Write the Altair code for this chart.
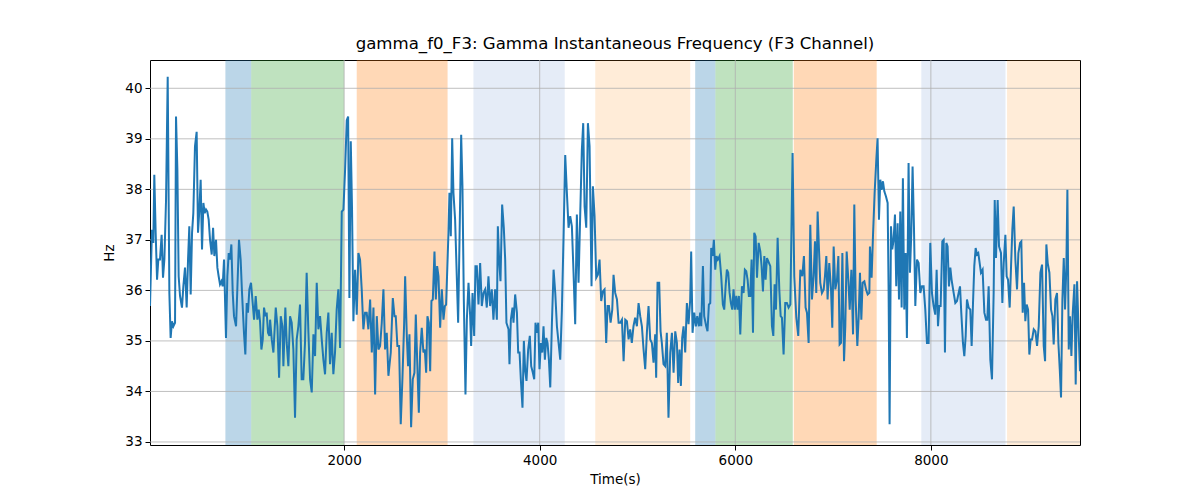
import altair as alt
import pandas as pd

# ---- data ----
times = [
 15, 35, 49, 59, 73, 87, 100, 117, 134, 148, 162, 179, 196, 213, 226, 240, 254, 271, 281, 295,
 308, 322, 342, 356, 373, 390, 404, 417, 431, 445, 458, 475, 492, 506, 520, 533, 547, 561, 574, 588,
 601, 615, 629, 646, 660, 673, 690, 704, 717, 731, 745, 758, 772, 792, 806, 820, 833, 847, 861, 874,
 895, 908, 925, 942, 956, 976, 990, 1004, 1017, 1031, 1048, 1065, 1079, 1096, 1113, 1127, 1140, 1154, 1168, 1181,
 1195, 1208, 1222, 1236, 1243, 1260, 1277, 1301, 1318, 1335, 1352, 1369, 1379, 1399, 1413, 1430, 1447, 1464, 1481, 1498,
 1515, 1532, 1549, 1566, 1583, 1600, 1617, 1635, 1652, 1669, 1686, 1703, 1720, 1737, 1754, 1771, 1788, 1805, 1822, 1839,
 1856, 1873, 1890, 1907, 1924, 1941, 1959, 1976, 1993, 2010, 2027, 2041, 2054, 2068, 2081, 2095, 2112, 2129, 2146, 2163,
 2180, 2197, 2214, 2231, 2248, 2266, 2283, 2300, 2317, 2334, 2351, 2368, 2385, 2402, 2419, 2436, 2453, 2477, 2498, 2515,
 2528, 2545, 2562, 2579, 2596, 2614, 2624, 2641, 2654, 2668, 2685, 2702, 2719, 2733, 2750, 2764, 2777, 2794, 2811, 2825,
 2839, 2852, 2866, 2880, 2893, 2907, 2924, 2938, 2951, 2965, 2982, 2999, 3016, 3030, 3043, 3067, 3077, 3091, 3105, 3118,
 3135, 3149, 3166, 3180, 3197, 3210, 3224, 3241, 3255, 3272, 3289, 3299, 3313, 3330, 3343, 3357, 3374, 3391, 3408, 3425,
 3442, 3459, 3476, 3493, 3510, 3527, 3544, 3562, 3572, 3585, 3599, 3616, 3633, 3647, 3660, 3681, 3691, 3705, 3722, 3732,
 3749, 3767, 3780, 3794, 3807, 3824, 3838, 3852, 3865, 3882, 3899, 3913, 3930, 3944, 3957, 3971, 3985, 3998, 4012, 4026,
 4039, 4053, 4067, 4080, 4094, 4108, 4125, 4142, 4159, 4176, 4193, 4210, 4227, 4244, 4261, 4278, 4295, 4312, 4329, 4346,
 4363, 4380, 4397, 4414, 4431, 4445, 4459, 4476, 4493, 4510, 4530, 4544, 4561, 4578, 4595, 4612, 4629, 4646, 4663, 4680,
 4694, 4708, 4725, 4742, 4755, 4772, 4790, 4807, 4824, 4841, 4858, 4875, 4892, 4909, 4925, 4942, 4959, 4976, 4994, 5011,
 5028, 5045, 5062, 5079, 5096, 5113, 5130, 5147, 5164, 5181, 5191, 5205, 5222, 5236, 5249, 5266, 5283, 5300, 5317, 5335,
 5352, 5369, 5386, 5403, 5416, 5430, 5444, 5457, 5471, 5488, 5505, 5522, 5539, 5549, 5563, 5580, 5597, 5611, 5628, 5641,
 5652, 5669, 5682, 5703, 5716, 5730, 5744, 5754, 5768, 5781, 5795, 5808, 5822, 5839, 5856, 5873, 5887, 5901, 5914, 5928,
 5942, 5955, 5969, 5982, 5996, 6010, 6023, 6037, 6051, 6068, 6085, 6098, 6112, 6126, 6139, 6153, 6167, 6181, 6194, 6208,
 6222, 6239, 6256, 6269, 6283, 6297, 6310, 6324, 6337, 6358, 6375, 6389, 6402, 6416, 6433, 6450, 6464, 6477, 6494, 6511,
 6528, 6545, 6563, 6573, 6586, 6603, 6624, 6644, 6665, 6685, 6702, 6719, 6733, 6750, 6767, 6784, 6801, 6815, 6828, 6842,
 6856, 6869, 6886, 6904, 6917, 6931, 6944, 6961, 6979, 6992, 7006, 7023, 7040, 7054, 7067, 7081, 7095, 7112, 7125, 7139,
 7156, 7170, 7187, 7204, 7217, 7231, 7248, 7262, 7275, 7289, 7302, 7320, 7337, 7354, 7371, 7377, 7394, 7408, 7425, 7442,
 7455, 7469, 7483, 7496, 7510, 7524, 7541, 7558, 7568, 7578, 7592, 7605, 7619, 7633, 7646, 7660, 7674, 7687, 7701, 7714,
 7728, 7742, 7755, 7772, 7786, 7800, 7813, 7827, 7841, 7858, 7875, 7892, 7909, 7926, 7943, 7960, 7977, 7994, 8011, 8028,
 8045, 8059, 8073, 8086, 8100, 8117, 8131, 8144, 8158, 8171, 8185, 8199, 8212, 8233, 8250, 8267, 8284, 8298, 8311, 8328,
 8342, 8356, 8369, 8386, 8403, 8417, 8431, 8444, 8458, 8472, 8485, 8499, 8512, 8529, 8547, 8564, 8577, 8591, 8608, 8625,
 8642, 8653, 8666, 8683, 8697, 8717, 8731, 8745, 8762, 8775, 8789, 8806, 8820, 8833, 8847, 8864, 8881, 8895, 8912, 8925,
 8939, 8953, 8966, 8980, 8994, 9007, 9021, 9035, 9052, 9069, 9086, 9103, 9120, 9137, 9154, 9168, 9181, 9195, 9212, 9229,
 9243, 9256, 9273, 9290, 9304, 9318, 9331, 9345, 9359, 9372, 9386, 9396, 9410, 9423, 9437, 9451, 9468, 9481, 9495, 9512,
 9525,
]

hz = [
 35.69, 37.20, 36.94, 38.29, 37.14, 36.21, 36.61, 36.61, 37.10, 36.25, 36.61, 37.79, 40.23, 35.95, 35.06, 35.39, 35.29, 35.36, 39.44, 38.39,
 36.28, 35.89, 35.66, 36.08, 36.45, 35.66, 36.61, 37.27, 35.92, 37.14, 37.53, 38.85, 39.14, 37.14, 37.60, 38.19, 36.81, 37.73, 37.53, 37.60,
 37.56, 37.40, 37.00, 36.71, 37.24, 36.68, 37.00, 36.45, 36.28, 36.12, 36.18, 36.08, 36.61, 35.06, 36.28, 36.74, 36.61, 36.91, 35.95, 35.49,
 35.29, 36.02, 37.00, 36.61, 35.95, 35.16, 34.73, 35.75, 35.56, 36.02, 36.15, 35.75, 35.42, 35.89, 35.42, 35.62, 35.39, 34.83, 35.03, 35.66,
 35.49, 35.56, 35.16, 35.10, 35.42, 35.03, 34.77, 35.66, 35.29, 34.27, 35.49, 35.29, 34.50, 35.66, 34.96, 34.50, 35.49, 35.36, 34.83, 33.48,
 35.03, 35.29, 35.72, 34.24, 34.24, 34.96, 36.35, 35.16, 34.24, 33.98, 35.13, 34.70, 36.15, 35.23, 35.49, 35.03, 34.63, 34.34, 35.16, 35.56,
 34.54, 35.16, 34.34, 34.77, 35.62, 36.02, 34.86, 37.56, 37.60, 38.39, 39.37, 39.44, 35.85, 38.95, 37.60, 35.39, 36.41, 35.52, 36.74, 36.61,
 36.02, 35.23, 35.56, 35.56, 35.23, 35.82, 34.77, 35.66, 33.94, 35.49, 34.83, 34.90, 35.36, 36.02, 34.83, 35.16, 34.31, 34.77, 35.85, 35.49,
 35.49, 34.90, 34.90, 33.35, 34.24, 35.36, 36.28, 35.10, 34.50, 35.13, 33.29, 34.24, 34.37, 35.52, 34.44, 33.58, 34.77, 35.26, 34.77, 34.83,
 34.37, 35.49, 35.36, 34.40, 35.79, 35.82, 36.77, 35.82, 36.48, 36.28, 35.26, 36.02, 35.42, 35.69, 35.72, 37.14, 37.93, 37.07, 39.01, 37.93,
 37.40, 36.48, 35.36, 37.00, 39.08, 38.06, 35.82, 33.94, 35.42, 36.15, 35.49, 34.90, 35.95, 35.10, 36.48, 36.48, 35.72, 36.54, 35.69, 35.95,
 36.02, 35.66, 36.28, 35.69, 36.02, 35.42, 36.02, 35.42, 37.27, 36.61, 36.18, 37.70, 37.24, 36.61, 35.36, 35.23, 34.54, 35.42, 35.66, 35.36,
 35.92, 35.56, 34.77, 34.77, 34.24, 33.68, 35.00, 34.40, 34.21, 34.83, 35.10, 34.50, 34.37, 34.24, 35.36, 35.16, 35.36, 34.44, 34.96, 34.77,
 35.29, 34.63, 35.06, 34.96, 34.63, 34.08, 35.36, 36.41, 35.95, 35.29, 34.96, 34.63, 35.62, 37.07, 38.68, 37.93, 37.24, 37.47, 37.27, 36.35,
 35.33, 37.50, 36.15, 37.47, 38.78, 39.31, 37.66, 37.24, 39.31, 38.85, 36.08, 38.06, 37.47, 36.25, 36.31, 36.61, 35.79, 35.98, 36.02, 34.96,
 35.69, 35.69, 35.36, 35.62, 36.31, 35.95, 35.82, 35.36, 35.36, 35.42, 34.60, 35.42, 35.39, 35.03, 35.23, 34.96, 35.29, 35.46, 35.29, 35.75,
 35.49, 35.29, 34.83, 34.44, 35.16, 35.69, 35.03, 34.96, 34.57, 35.13, 34.27, 36.15, 36.15, 35.19, 34.96, 34.54, 34.50, 35.16, 33.48, 34.77,
 35.16, 34.37, 35.19, 34.96, 34.17, 34.83, 34.11, 35.06, 35.29, 34.77, 35.75, 35.33, 35.82, 36.77, 35.16, 35.56, 35.29, 35.49, 35.29, 35.56,
 35.29, 36.48, 35.49, 35.29, 35.19, 35.72, 35.75, 36.84, 36.68, 37.00, 36.41, 36.68, 36.61, 36.68, 36.28, 35.72, 35.62, 36.08, 36.41, 36.35,
 35.95, 35.75, 35.62, 36.02, 35.62, 35.89, 35.62, 35.89, 35.13, 36.08, 35.95, 36.41, 36.38, 36.21, 35.89, 35.89, 36.61, 35.16, 37.14, 37.07,
 36.25, 36.94, 36.77, 36.48, 35.98, 36.68, 36.21, 36.64, 36.58, 36.48, 35.29, 35.10, 36.12, 35.62, 37.04, 36.02, 35.49, 35.46, 34.73, 35.75,
 35.75, 35.66, 35.72, 37.00, 38.72, 36.28, 35.46, 35.10, 36.41, 36.28, 36.68, 35.66, 35.56, 34.96, 37.30, 35.82, 36.28, 36.97, 35.95, 37.56,
 36.81, 36.15, 35.95, 36.02, 36.28, 36.68, 35.82, 36.54, 36.02, 35.26, 36.87, 36.02, 36.21, 36.68, 34.93, 34.96, 36.74, 34.60, 35.29, 36.77,
 36.21, 35.62, 36.41, 35.13, 37.70, 35.82, 34.90, 35.49, 36.35, 35.42, 36.15, 36.18, 36.02, 35.92, 35.95, 36.87, 36.25, 37.07, 37.93, 38.58,
 39.01, 37.40, 38.19, 37.99, 38.16, 37.96, 37.86, 37.73, 35.95, 33.35, 37.27, 36.81, 37.00, 37.50, 36.08, 37.33, 35.82, 37.56, 35.66, 38.22,
 35.62, 36.74, 35.06, 38.52, 36.35, 37.14, 38.45, 37.27, 35.69, 36.61, 36.54, 35.95, 36.08, 36.08, 35.62, 34.96, 34.96, 36.94, 35.95, 35.69,
 35.52, 36.41, 35.29, 35.69, 35.69, 36.97, 37.00, 34.77, 36.94, 36.87, 36.08, 36.45, 36.21, 35.95, 35.75, 35.79, 35.95, 36.08, 35.56, 34.96,
 34.70, 35.10, 35.82, 35.66, 35.62, 34.90, 35.75, 36.48, 36.84, 36.71, 36.74, 36.54, 36.35, 36.41, 35.56, 35.42, 35.42, 36.08, 34.63, 34.24,
 35.95, 37.79, 36.64, 37.79, 36.87, 36.74, 35.75, 36.54, 37.10, 36.28, 36.21, 35.66, 36.48, 37.20, 37.66, 36.61, 36.02, 36.74, 36.94, 36.97,
 35.56, 36.15, 35.39, 35.72, 35.62, 34.73, 35.03, 35.03, 35.23, 35.19, 34.90, 35.29, 36.35, 36.51, 34.90, 34.60, 36.91, 36.54, 36.35, 35.62,
 35.49, 34.93, 35.82, 35.95, 34.96, 34.44, 33.88, 35.82, 36.64, 35.62, 36.51, 37.99, 34.83, 35.49, 34.70, 35.56, 36.12, 34.14, 36.18, 35.10,
 34.40,
]

band_start = [786, 1050, 2129, 3322, 4568, 5590, 5797, 6598, 7902, 8779]
band_end = [1050, 2000, 3058, 4256, 5539, 5797, 6588, 7446, 8763, 9525]
band_color = ["#1f77b4", "#2ca02c", "#ff7f0e", "#4a78c8", "#ff8c1a",
              "#1f77b4", "#2ca02c", "#ff7f0e", "#4a78c8", "#ff8c1a"]
band_alpha = [0.3, 0.3, 0.3, 0.14, 0.17, 0.3, 0.3, 0.3, 0.14, 0.17]

x_ticks = [2000, 4000, 6000, 8000]
y_ticks = [33, 34, 35, 36, 37, 38, 39, 40]

X_DOMAIN = [15, 9525]
Y_DOMAIN = [32.94, 40.56]

line_df = pd.DataFrame({"t": times, "hz": hz})
band_df = pd.DataFrame({"start": band_start, "end": band_end,
                        "color": band_color, "alpha": band_alpha})
xg_df = pd.DataFrame({"v": x_ticks})
yg_df = pd.DataFrame({"v": y_ticks})

FONT = "DejaVu Sans"

xscale = alt.Scale(domain=X_DOMAIN, nice=False, zero=False)
yscale = alt.Scale(domain=Y_DOMAIN, nice=False, zero=False)

xaxis = alt.Axis(values=x_ticks, format="d", title="Time(s)", grid=False,
                 tickSize=5, tickColor="black", labelColor="black",
                 labelFontSize=13.5, labelFont=FONT, labelPadding=3,
                 titleFont=FONT, titleFontSize=13.5, titleFontWeight="normal",
                 titleColor="black", titlePadding=6, domain=False)
yaxis = alt.Axis(values=y_ticks, format="d", title="Hz", grid=False,
                 tickSize=5, tickColor="black", labelColor="black",
                 labelFontSize=13.5, labelFont=FONT, labelPadding=3,
                 titleFont=FONT, titleFontSize=13.5, titleFontWeight="normal",
                 titleColor="black", titlePadding=8, domain=False)

bands = alt.Chart(band_df).mark_rect(stroke=None).encode(
    x=alt.X("start:Q", scale=xscale, axis=xaxis),
    x2="end:Q",
    y=alt.value(0),
    y2=alt.value(385),
    color=alt.Color("color:N", scale=None, legend=None),
    opacity=alt.Opacity("alpha:Q", scale=None, legend=None),
)

xgrid = alt.Chart(xg_df).mark_rule(color="#b0b0b0", strokeWidth=0.8).encode(
    x=alt.X("v:Q", scale=xscale, axis=xaxis)
)
ygrid = alt.Chart(yg_df).mark_rule(color="#b0b0b0", strokeWidth=0.8).encode(
    y=alt.Y("v:Q", scale=yscale, axis=yaxis)
)

line = alt.Chart(line_df).mark_line(color="#1f77b4", strokeWidth=2, clip=True).encode(
    x=alt.X("t:Q", scale=xscale, axis=xaxis),
    y=alt.Y("hz:Q", scale=yscale, axis=yaxis),
)

chart = alt.layer(bands, xgrid, ygrid, line).properties(
    width=930,
    height=385,
    title=alt.TitleParams(
        "gamma_f0_F3: Gamma Instantaneous Frequency (F3 Channel)",
        font=FONT, fontSize=16.6, fontWeight="normal", color="black",
        anchor="middle", offset=7,
    ),
    autosize=alt.AutoSizeParams(type="none"),
    padding={"left": 142, "top": 52, "right": 100, "bottom": 52},
).configure(
    background="white",
    view=alt.ViewConfig(stroke="black", strokeWidth=1),
)

chart.save("out.html", embed_options={"renderer": "svg", "actions": False})
